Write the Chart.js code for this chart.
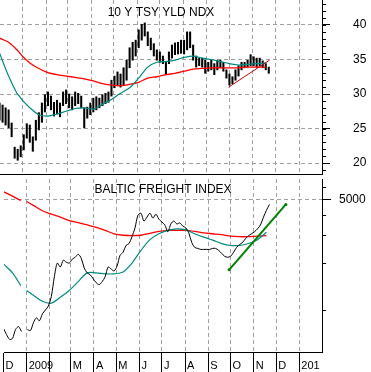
<!DOCTYPE html>
<html>
<head>
<meta charset="utf-8">
<script src="https://cdn.jsdelivr.net/npm/chart.js@4.4.1/dist/chart.umd.min.js"></script>
<style>
  body { margin: 0; background: #fff; }
  #wrap { position: relative; width: 371px; height: 372px; }
  #topChart { position: absolute; left: 0; top: 0; }
  #bottomChart { position: absolute; left: 0; top: 175px; }
</style>
</head>
<body>
<div id="wrap">
  <canvas id="topChart" width="371" height="175"></canvas>
  <canvas id="bottomChart" width="371" height="197"></canvas>
</div>
<script>
// days counted from 1 Dec 2008
const monthDays = [0, 31, 62, 90, 121, 151, 182, 212, 243, 274, 304, 335, 365, 396];
const monthLabels = ["D", "2009", "", "M", "A", "M", "J", "J", "A", "S", "O", "N", "D", "201"];

const tsyTicks = [20, 25, 30, 35, 40];
const bdiTicks = [5000];
const bdiMinorTicks = [1000, 2000, 3000, 4000, 6000];

// 10 y treasury yield index, one bar every 4 days
const barStep = 4;
const tsyHigh = [28.7, 28.4, 28.0, 27.7, 25.8, 22.3, 22.0, 22.5, 24.1, 25.7,
  25.5, 23.8, 26.2, 27.3, 28.7, 29.9, 30.3, 29.7, 28.8, 29.1,
  28.7, 30.3, 30.6, 30.0, 29.6, 30.3, 30.1, 29.7, 28.0, 28.1,
  28.7, 29.4, 29.6, 29.4, 29.9, 30.1, 30.3, 32.0, 32.6, 33.2,
  32.9, 33.8, 34.9, 36.7, 37.5, 37.8, 39.3, 40.1, 40.3, 39.0,
  38.1, 37.3, 36.4, 36.1, 35.5, 34.6, 36.1, 37.1, 37.4, 37.5,
  37.8, 37.8, 39.0, 39.0, 37.1, 35.5, 35.2, 35.2, 34.9, 34.6,
  34.9, 34.4, 34.9, 34.9, 34.6, 33.5, 32.9, 32.5, 33.5, 34.1,
  34.6, 34.6, 34.9, 35.7, 35.4, 35.2, 35.2, 34.8, 34.4, 33.9];
const tsyLow = [26.2, 25.9, 25.5, 25.1, 23.8, 20.7, 20.4, 20.9, 21.9, 23.6,
  23.0, 21.7, 23.3, 24.8, 25.9, 27.4, 28.3, 27.7, 26.8, 27.1,
  26.7, 28.3, 28.6, 28.0, 27.7, 28.3, 28.6, 28.0, 25.1, 26.5,
  27.0, 27.4, 27.7, 28.0, 28.3, 28.6, 28.8, 29.7, 30.9, 31.2,
  31.0, 31.2, 32.0, 33.8, 34.9, 35.5, 36.7, 37.8, 38.4, 37.0,
  36.4, 35.5, 34.9, 34.6, 34.4, 32.8, 34.4, 35.2, 35.7, 35.8,
  35.9, 35.8, 36.4, 36.7, 34.9, 33.9, 34.1, 33.9, 33.0, 33.3,
  33.5, 32.8, 33.5, 33.8, 33.3, 32.3, 31.3, 31.5, 32.0, 32.6,
  33.5, 33.8, 33.9, 34.1, 34.1, 33.9, 34.1, 33.8, 33.5, 33.0];

// moving averages
const maDays = [0, 12, 23, 27, 31, 40, 52, 64, 76, 88, 100, 112, 124, 136, 148, 160,
  172, 184, 196, 208, 220, 232, 244, 256, 268, 280, 292, 304, 316, 328, 340, 352];
const tsyMaRed = [38.1, 37.5, 36.4, 35.9, 35.4, 34.5, 33.7, 33.1, 32.8, 32.6, 32.4, 32.2, 31.9, 31.5, 31.3, 31.2,
  31.4, 31.7, 32.3, 32.5, 32.8, 33.0, 33.3, 33.6, 33.7, 33.8, 33.8, 33.8, 33.8, 33.9, 33.9, 33.9];
const tsyMaTeal = [35.9, 32.6, 30.1, 29.6, 29.0, 28.0, 27.0, 26.8, 27.1, 27.5, 27.9, 28.0, 27.8, 28.5, 29.2, 30.1,
  30.9, 32.3, 33.9, 34.6, 34.7, 34.9, 35.3, 35.5, 35.2, 35.0, 34.7, 34.4, 34.2, 34.3, 34.4, 34.5];
const bdiMaRed = [5602, 5255, 4929, null, 4859, 4590, 4246, 4040, 3871, 3683, 3579, 3456, 3334, 3197, 3040, 2976,
  2955, 2976, 3062, 3150, 3197, 3197, 3197, 3150, 3084, 3040, 2998, 2934, 2913, 2913, 2934, 2955];
const bdiMaTeal = [1957, 1722, 1431, null, 1334, 1242, 1140, 1108, 1207, 1334, 1515, 1722, 1722, 1698, 1698, 1746,
  1985, 2388, 2791, 3040, 3197, 3265, 3218, 3040, 2893, 2771, 2637, 2564, 2564, 2637, 2791, 3105];

// baltic freight index, same 4 day steps as the bars
const bdi = [766, 703, 655, 664, 755, 788, 734, null, 755, 745,
  834, 896, 858, 948, 1003, 1062, 1224, 1626, 1985, 1875,
  2071, 2012, 1985, 2101, 2161, 2255, 2131, 1849, 1722, 1674,
  1581, 1493, 1452, 1515, 1626, 1875, 1822, 1771, 1902, 2223,
  2321, 2564, 2637, 2913, 3311, 3983, 4098, 3658, 3871, 4098,
  3816, 4040, 3761, 3607, 3456, 3128, 3506, 3658, 3506, 3556,
  3406, 3311, 3084, 2676, 2492, 2457, 2422, 2422, 2422, 2422,
  2457, 2457, 2388, 2288, 2192, 2161, 2192, 2321, 2492, 2600,
  2676, 2832, 2955, 3040, 3128, 3265, 3456, 3871, 4276, 4657];

const tsyTrendDays = [303, 357];
const tsyTrend = [31.0, 34.9];
const bdiTrendDays = [302, 378];
const bdiTrend = [1800, 4660];

const gridGray = "#a0a0a0";
const teal = "#008a80";
Chart.defaults.font.family = '"Liberation Sans", Arial, sans-serif';

function pts(days, vals) {
  return days.map((d, i) => ({ x: d, y: vals[i] }));
}

const panelTitle = {
  id: "panelTitle",
  afterDatasetsDraw(chart, args, opts) {
    const { ctx, chartArea } = chart;
    ctx.save();
    ctx.font = '12px "Liberation Sans", Arial, sans-serif';
    ctx.fillStyle = "#000";
    ctx.textAlign = "center";
    ctx.textBaseline = "alphabetic";
    ctx.fillText(opts.text, (chartArea.left + chartArea.right) / 2, chartArea.top + opts.y);
    ctx.restore();
  }
};

const minorTicks = {
  id: "minorTicks",
  afterDraw(chart, args, opts) {
    const scale = chart.scales.y;
    const ctx = chart.ctx;
    ctx.save();
    ctx.strokeStyle = "#000";
    ctx.lineWidth = 1;
    ctx.beginPath();
    opts.values.forEach(v => {
      const y = Math.round(scale.getPixelForValue(v)) + 0.5;
      ctx.moveTo(scale.left, y);
      ctx.lineTo(scale.left + opts.length, y);
    });
    ctx.stroke();
    ctx.restore();
  }
};

function xScale(showLabels) {
  return {
    type: "linear",
    min: 0.6,
    max: 426.4,
    offset: false,
    afterBuildTicks: s => { s.ticks = monthDays.map(v => ({ value: v })); },
    afterFit: s => {
      s.height = showLabels ? 20 : 1;
      s.paddingLeft = 0;
      s.paddingRight = 0;
    },
    ticks: {
      display: showLabels,
      autoSkip: false,
      maxRotation: 0,
      align: "start",
      labelOffset: 2,
      padding: -13,
      color: "#000",
      font: { size: 11 },
      callback: (v, i) => monthLabels[i]
    },
    grid: {
      offset: false,
      color: c => (c.index === 0 ? "rgba(0,0,0,0)" : gridGray),
      drawTicks: showLabels,
      tickLength: 20,
      tickColor: "#000",
      tickBorderDash: []
    },
    border: { color: "#000", dash: [4, 3] }
  };
}

const common = {
  responsive: false,
  animation: false,
  layout: { padding: 0 },
  events: []
};

new Chart(document.getElementById("topChart"), {
  type: "line",
  data: {
    datasets: [
      { data: pts(tsyTrendDays, tsyTrend), borderColor: "#c00000", borderWidth: 1, pointRadius: 0 },
      { data: pts(maDays, tsyMaTeal), borderColor: teal, borderWidth: 1.2, pointRadius: 0, tension: 0.3 },
      { data: pts(maDays, tsyMaRed), borderColor: "#ff0000", borderWidth: 1.3, pointRadius: 0, tension: 0.3 },
      {
        type: "bar",
        data: tsyHigh.map((h, i) => ({ x: i * barStep, y: [tsyLow[i], h] })),
        backgroundColor: "#000",
        borderWidth: 0,
        barThickness: 1.4
      }
    ]
  },
  options: {
    ...common,
    plugins: {
      legend: { display: false },
      tooltip: { enabled: false },
      panelTitle: { text: "10 Y TSY YLD NDX", y: 16 },
      minorTicks: { values: Array.from({ length: 25 }, (_, i) => 19 + i), length: 4 }
    },
    scales: {
      x: xScale(false),
      y: {
        type: "linear",
        position: "right",
        min: 18.41,
        max: 43.62,
        afterBuildTicks: s => { s.ticks = tsyTicks.map(v => ({ value: v })); },
        afterFit: s => { s.width = 49; s.paddingTop = 0; s.paddingBottom = 0; },
        ticks: { color: "#000", font: { size: 12 }, padding: 23, callback: v => v },
        grid: { color: gridGray, tickColor: "#000", tickLength: 8, tickBorderDash: [] },
        border: { color: "#000", dash: [4, 3] }
      }
    }
  },
  plugins: [panelTitle, minorTicks]
});

new Chart(document.getElementById("bottomChart"), {
  type: "line",
  data: {
    datasets: [
      {
        data: pts(bdiTrendDays, bdiTrend),
        borderColor: "#008000",
        borderWidth: 2,
        pointRadius: 1.5,
        pointBackgroundColor: "#008000",
        pointBorderWidth: 0
      },
      { data: bdi.map((v, i) => ({ x: i * barStep, y: v })), borderColor: "#000", borderWidth: 1, pointRadius: 0, tension: 0.3 },
      { data: pts(maDays, bdiMaTeal), borderColor: teal, borderWidth: 1.2, pointRadius: 0, tension: 0.3 },
      { data: pts(maDays, bdiMaRed), borderColor: "#ff0000", borderWidth: 1.3, pointRadius: 0, tension: 0.3 }
    ]
  },
  options: {
    ...common,
    plugins: {
      legend: { display: false },
      tooltip: { enabled: false },
      panelTitle: { text: "BALTIC FREIGHT INDEX", y: 14 },
      minorTicks: { values: bdiMinorTicks, length: 4 }
    },
    scales: {
      x: xScale(true),
      y: {
        type: "logarithmic",
        position: "right",
        min: 545,
        max: 6740,
        afterBuildTicks: s => { s.ticks = bdiTicks.map(v => ({ value: v })); },
        afterFit: s => { s.width = 49; s.paddingTop = 0; s.paddingBottom = 0; },
        ticks: { color: "#000", font: { size: 12 }, padding: 8, callback: v => v },
        grid: { color: gridGray, tickColor: "#000", tickLength: 9, tickBorderDash: [] },
        border: { color: "#000", dash: [4, 3] }
      }
    }
  },
  plugins: [panelTitle, minorTicks]
});
</script>
</body>
</html>
